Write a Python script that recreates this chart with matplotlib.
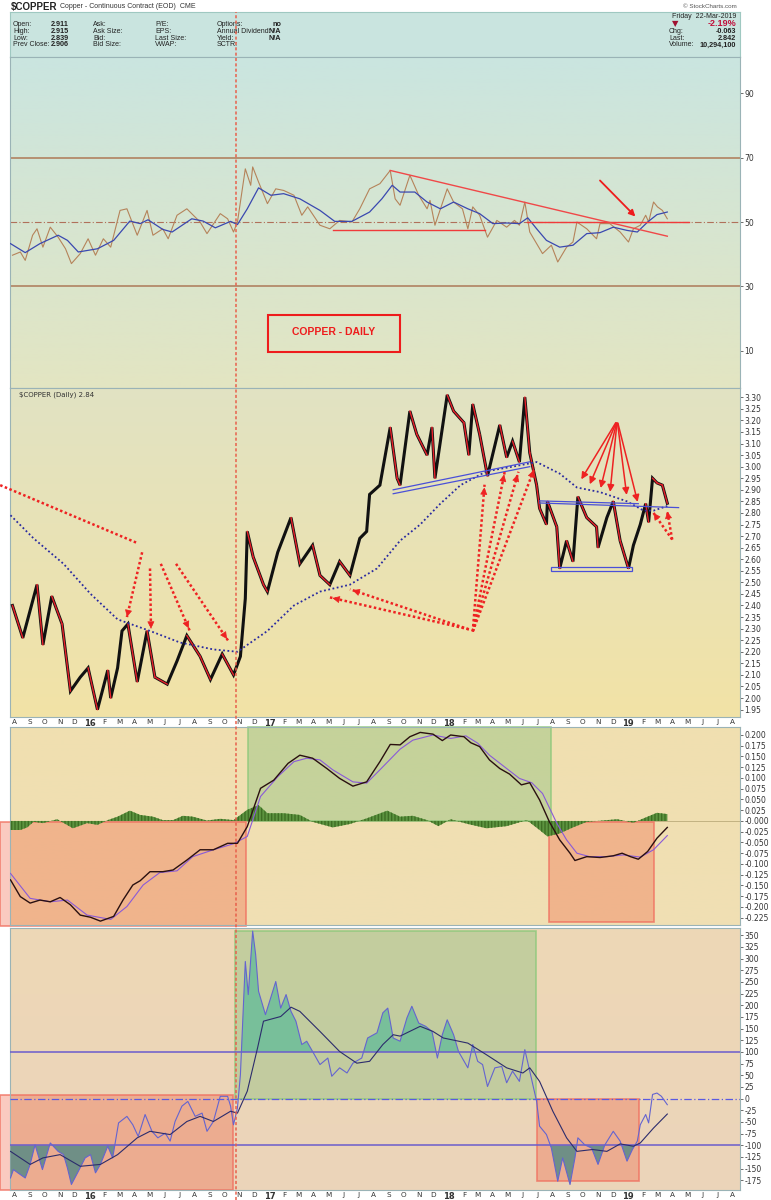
import matplotlib
matplotlib.use("Agg")
import matplotlib.pyplot as plt
import matplotlib.dates as mdates
import numpy as np
import pandas as pd
from matplotlib.patches import Rectangle
from matplotlib.lines import Line2D
from matplotlib.colors import LinearSegmentedColormap

# ---------------- data ----------------
price_dates = [
    "2015-07-28", "2015-08-18", "2015-09-16", "2015-09-28", "2015-10-16", "2015-11-06",
    "2015-11-23", "2015-12-13", "2015-12-29", "2016-01-17", "2016-02-07", "2016-02-13",
    "2016-02-27", "2016-03-07", "2016-03-19", "2016-04-07", "2016-04-27", "2016-05-13",
    "2016-06-07", "2016-06-27", "2016-07-17", "2016-08-13", "2016-09-03", "2016-09-27",
    "2016-10-20", "2016-11-03", "2016-11-13", "2016-11-17", "2016-11-29", "2016-12-20",
    "2016-12-28", "2017-01-18", "2017-02-14", "2017-03-04", "2017-03-30", "2017-04-14",
    "2017-05-04", "2017-05-24", "2017-06-14", "2017-07-04", "2017-07-18", "2017-07-24",
    "2017-08-14", "2017-09-04", "2017-09-18", "2017-09-24", "2017-10-14", "2017-10-28",
    "2017-11-18", "2017-11-28", "2017-12-04", "2017-12-29", "2018-01-11", "2018-02-01",
    "2018-02-11", "2018-02-19", "2018-03-05", "2018-03-21", "2018-04-15", "2018-04-29",
    "2018-05-11", "2018-05-25", "2018-06-05", "2018-06-15", "2018-06-29", "2018-07-05",
    "2018-07-19", "2018-07-21", "2018-08-09", "2018-08-15", "2018-08-29", "2018-09-11",
    "2018-09-21", "2018-10-09", "2018-10-29", "2018-11-01", "2018-11-19", "2018-12-02",
    "2018-12-16", "2019-01-02", "2019-01-12", "2019-01-26", "2019-02-06", "2019-02-12",
    "2019-02-20", "2019-03-01", "2019-03-12", "2019-03-22",
]
price_close = [
    2.40, 2.26, 2.49, 2.23, 2.44, 2.32, 2.03, 2.09, 2.13, 1.95, 2.12, 2.00,
    2.13, 2.29, 2.32, 2.07, 2.29, 2.09, 2.06, 2.16, 2.27, 2.18, 2.08, 2.19,
    2.10, 2.18, 2.43, 2.72, 2.61, 2.49, 2.46, 2.63, 2.78, 2.58, 2.66, 2.53,
    2.49, 2.59, 2.53, 2.69, 2.72, 2.88, 2.92, 3.17, 2.95, 2.92, 3.24, 3.14,
    3.05, 3.17, 2.95, 3.31, 3.24, 3.19, 3.05, 3.27, 3.14, 2.96, 3.18, 3.04,
    3.11, 3.02, 3.30, 3.06, 2.92, 2.82, 2.75, 2.85, 2.74, 2.56, 2.68, 2.59,
    2.87, 2.78, 2.74, 2.65, 2.78, 2.85, 2.68, 2.56, 2.66, 2.75, 2.84, 2.76,
    2.95, 2.93, 2.92, 2.842,
]

ma_dates = [
    "2015-07-24", "2015-09-09", "2015-11-09", "2016-01-03", "2016-02-27", "2016-05-03",
    "2016-07-03", "2016-09-09", "2016-10-28", "2016-12-28", "2017-02-20", "2017-04-14",
    "2017-06-14", "2017-08-08", "2017-09-24", "2017-11-04", "2017-12-15", "2018-01-25",
    "2018-03-19", "2018-05-11", "2018-06-29", "2018-08-15", "2018-09-19", "2018-11-05",
    "2018-12-30", "2019-02-02", "2019-02-22", "2019-03-22",
]
price_ma = [
    2.79, 2.69, 2.58, 2.45, 2.34, 2.29, 2.24, 2.21, 2.20, 2.29, 2.40, 2.46,
    2.49, 2.56, 2.68, 2.75, 2.84, 2.92, 2.98, 3.00, 3.02, 2.97, 2.91, 2.89,
    2.85, 2.81, 2.81, 2.83,
]

rsi_dates = [
    "2015-07-28", "2015-08-13", "2015-08-23", "2015-09-07", "2015-09-16", "2015-09-28",
    "2015-10-13", "2015-10-29", "2015-11-13", "2015-11-25", "2015-12-13", "2015-12-29",
    "2016-01-13", "2016-01-29", "2016-02-13", "2016-03-03", "2016-03-17", "2016-04-07",
    "2016-04-27", "2016-05-09", "2016-05-29", "2016-06-09", "2016-06-27", "2016-07-17",
    "2016-08-13", "2016-08-27", "2016-09-23", "2016-10-08", "2016-10-20", "2016-10-28",
    "2016-11-13", "2016-11-24", "2016-11-28", "2016-12-10", "2016-12-28", "2017-01-14",
    "2017-01-30", "2017-02-20", "2017-03-08", "2017-03-20", "2017-04-14", "2017-05-04",
    "2017-05-24", "2017-06-18", "2017-07-04", "2017-07-24", "2017-08-14", "2017-09-04",
    "2017-09-14", "2017-09-24", "2017-10-14", "2017-11-01", "2017-11-18", "2017-11-24",
    "2017-12-04", "2017-12-29", "2018-01-11", "2018-01-29", "2018-02-09", "2018-02-19",
    "2018-03-05", "2018-03-21", "2018-04-09", "2018-04-29", "2018-05-15", "2018-05-25",
    "2018-06-05", "2018-06-15", "2018-06-29", "2018-07-11", "2018-07-29", "2018-08-11",
    "2018-08-29", "2018-09-11", "2018-09-19", "2018-10-09", "2018-10-29", "2018-11-05",
    "2018-11-25", "2018-12-16", "2019-01-02", "2019-01-12", "2019-01-26", "2019-02-06",
    "2019-02-12", "2019-02-22", "2019-03-02", "2019-03-12", "2019-03-22",
]
rsi_values = [
    39.7, 40.7, 38.1, 45.9, 47.9, 42.2, 48.4, 45.3, 41.7, 37.1, 40.2, 44.8,
    39.7, 44.8, 42.2, 53.6, 54.1, 45.9, 53.6, 45.9, 47.9, 44.8, 52.1, 54.1,
    50.0, 46.4, 52.6, 51.0, 46.9, 50.0, 66.5, 61.4, 67.1, 62.4, 55.7, 60.3,
    59.8, 58.3, 52.1, 54.7, 49.0, 47.9, 50.5, 50.0, 54.1, 60.3, 61.9, 66.0,
    57.2, 55.2, 64.5, 58.3, 54.1, 56.7, 49.0, 60.3, 56.2, 54.1, 47.9, 54.7,
    52.1, 45.3, 50.5, 48.4, 50.5, 49.0, 56.2, 46.9, 43.3, 40.2, 42.8, 37.6,
    42.2, 43.8, 50.0, 47.9, 44.8, 49.5, 49.5, 46.9, 43.8, 47.9, 49.0, 52.1,
    50.0, 56.2, 54.7, 53.6, 51.0,
]

rsi_ma_dates = [
    "2015-07-24", "2015-08-23", "2015-09-22", "2015-10-29", "2015-11-17", "2015-12-09",
    "2016-01-17", "2016-02-19", "2016-03-23", "2016-04-13", "2016-04-29", "2016-05-29",
    "2016-06-17", "2016-07-27", "2016-08-19", "2016-09-13", "2016-10-14", "2016-10-28",
    "2016-11-17", "2016-12-10", "2017-01-04", "2017-01-30", "2017-03-04", "2017-04-14",
    "2017-05-14", "2017-06-18", "2017-07-24", "2017-08-18", "2017-09-08", "2017-09-24",
    "2017-10-24", "2017-11-18", "2017-12-15", "2018-01-11", "2018-02-09", "2018-03-05",
    "2018-04-01", "2018-04-29", "2018-05-25", "2018-06-11", "2018-06-29", "2018-07-19",
    "2018-08-15", "2018-09-11", "2018-10-09", "2018-11-05", "2018-12-02", "2018-12-30",
    "2019-01-20", "2019-02-10", "2019-03-01", "2019-03-22",
]
rsi_ma = [
    43.3, 40.5, 43.3, 45.9, 44.3, 40.7, 41.7, 44.3, 50.3, 49.5, 50.7, 47.7,
    46.9, 51.0, 50.3, 48.2, 50.2, 49.2, 54.1, 60.6, 58.3, 58.8, 57.2, 53.6,
    50.2, 50.2, 53.1, 57.2, 61.4, 59.3, 59.3, 56.2, 54.1, 56.2, 54.1, 52.6,
    49.5, 49.7, 49.5, 51.3, 47.9, 44.3, 42.2, 42.8, 46.4, 46.7, 48.4, 47.4,
    46.9, 50.0, 52.3, 53.1,
]

macd_dates = [
    "2015-07-24", "2015-08-13", "2015-09-02", "2015-09-22", "2015-10-13", "2015-11-02",
    "2015-11-23", "2015-12-13", "2016-01-03", "2016-01-23", "2016-02-19", "2016-03-09",
    "2016-03-29", "2016-04-13", "2016-05-03", "2016-05-29", "2016-06-19", "2016-07-17",
    "2016-08-13", "2016-09-09", "2016-10-08", "2016-10-28", "2016-11-17", "2016-12-14",
    "2017-01-10", "2017-02-08", "2017-03-04", "2017-03-30", "2017-04-28", "2017-05-24",
    "2017-06-20", "2017-07-18", "2017-08-14", "2017-09-04", "2017-09-24", "2017-10-14",
    "2017-11-04", "2017-11-30", "2017-12-19", "2018-01-05", "2018-02-01", "2018-02-15",
    "2018-03-05", "2018-03-25", "2018-04-15", "2018-05-05", "2018-05-29", "2018-06-15",
    "2018-07-05", "2018-07-25", "2018-08-15", "2018-09-05", "2018-09-15", "2018-10-09",
    "2018-11-05", "2018-12-02", "2018-12-20", "2019-01-06", "2019-01-22", "2019-02-10",
    "2019-03-01", "2019-03-22",
]
macd_line = [
    -0.137, -0.176, -0.191, -0.184, -0.188, -0.178, -0.195, -0.219, -0.224, -0.233,
    -0.222, -0.184, -0.149, -0.139, -0.118, -0.118, -0.114, -0.091, -0.067, -0.067,
    -0.052, -0.052, -0.013, 0.076, 0.095, 0.134, 0.153, 0.146, 0.122, 0.099,
    0.081, 0.091, 0.138, 0.178, 0.177, 0.196, 0.206, 0.202, 0.187, 0.200,
    0.196, 0.182, 0.173, 0.142, 0.122, 0.109, 0.084, 0.089, 0.049, -0.002,
    -0.044, -0.075, -0.092, -0.083, -0.085, -0.081, -0.075, -0.083, -0.089, -0.071,
    -0.040, -0.015,
]

signal_dates = [
    "2015-07-24", "2015-09-02", "2015-10-13", "2015-11-17", "2015-12-27", "2016-02-13",
    "2016-03-17", "2016-04-19", "2016-05-23", "2016-06-27", "2016-07-29", "2016-09-09",
    "2016-10-20", "2016-11-17", "2016-12-14", "2017-01-18", "2017-02-20", "2017-03-18",
    "2017-04-14", "2017-05-10", "2017-06-20", "2017-07-18", "2017-08-14", "2017-09-24",
    "2017-10-20", "2017-11-30", "2018-01-05", "2018-02-05", "2018-03-01", "2018-03-25",
    "2018-04-29", "2018-05-25", "2018-06-19", "2018-07-11", "2018-08-09", "2018-08-29",
    "2018-09-19", "2018-10-15", "2018-11-19", "2018-12-22", "2019-01-26", "2019-02-22",
    "2019-03-22",
]
signal_line = [
    -0.122, -0.180, -0.188, -0.184, -0.219, -0.229, -0.199, -0.149, -0.120, -0.116,
    -0.083, -0.067, -0.053, -0.036, 0.057, 0.103, 0.138, 0.146, 0.142, 0.119,
    0.091, 0.088, 0.119, 0.167, 0.188, 0.200, 0.192, 0.198, 0.181, 0.153,
    0.122, 0.099, 0.089, 0.064, -0.005, -0.044, -0.075, -0.083, -0.083, -0.079,
    -0.084, -0.067, -0.034,
]

hist_dates = [
    "2015-07-24", "2015-08-13", "2015-08-27", "2015-09-09", "2015-09-28", "2015-10-27",
    "2015-11-28", "2015-12-27", "2016-01-17", "2016-02-07", "2016-02-27", "2016-03-23",
    "2016-04-13", "2016-05-09", "2016-05-29", "2016-06-19", "2016-07-09", "2016-07-29",
    "2016-08-27", "2016-09-23", "2016-10-20", "2016-11-17", "2016-12-10", "2016-12-28",
    "2017-01-30", "2017-03-04", "2017-03-30", "2017-05-10", "2017-06-14", "2017-07-18",
    "2017-08-29", "2017-09-24", "2017-10-20", "2017-11-18", "2017-12-11", "2018-01-05",
    "2018-02-09", "2018-03-19", "2018-04-29", "2018-06-09", "2018-07-05", "2018-07-21",
    "2018-08-15", "2018-09-11", "2018-10-09", "2018-12-10", "2019-01-12", "2019-02-10",
    "2019-03-01", "2019-03-22",
]
hist_values = [
    -0.021, -0.021, -0.015, -0.002, -0.005, 0.004, -0.017, -0.005, -0.009, 0.002,
    0.010, 0.024, 0.014, 0.010, 0.002, 0.002, 0.012, 0.010, 0.001, 0.005,
    0.002, 0.026, 0.037, 0.018, 0.018, 0.014, -0.002, -0.015, -0.007, 0.006,
    0.024, 0.010, 0.012, 0.002, -0.012, 0.004, -0.007, -0.017, -0.012, 0.002,
    -0.021, -0.036, -0.029, -0.015, -0.002, 0.004, -0.004, 0.010, 0.019, 0.016,
]

cci_dates = [
    "2015-07-24", "2015-07-30", "2015-08-08", "2015-08-23", "2015-09-02", "2015-09-12",
    "2015-09-18", "2015-09-27", "2015-10-13", "2015-10-29", "2015-11-09", "2015-11-17",
    "2015-11-25", "2015-12-09", "2015-12-23", "2016-01-03", "2016-01-13", "2016-01-23",
    "2016-02-07", "2016-02-17", "2016-02-29", "2016-03-17", "2016-03-29", "2016-04-09",
    "2016-04-23", "2016-05-07", "2016-05-19", "2016-06-03", "2016-06-13", "2016-06-23",
    "2016-07-07", "2016-07-19", "2016-08-03", "2016-08-17", "2016-08-27", "2016-09-09",
    "2016-09-23", "2016-10-08", "2016-10-14", "2016-10-20", "2016-10-28", "2016-11-03",
    "2016-11-13", "2016-11-19", "2016-11-28", "2016-12-04", "2016-12-10", "2016-12-24",
    "2017-01-14", "2017-01-24", "2017-02-04", "2017-02-14", "2017-02-24", "2017-03-08",
    "2017-03-18", "2017-03-30", "2017-04-14", "2017-04-30", "2017-05-08", "2017-05-24",
    "2017-06-08", "2017-06-20", "2017-07-08", "2017-07-20", "2017-08-08", "2017-08-20",
    "2017-08-30", "2017-09-10", "2017-09-24", "2017-10-08", "2017-10-18", "2017-11-01",
    "2017-11-15", "2017-11-28", "2017-12-09", "2017-12-19", "2017-12-29", "2018-01-11",
    "2018-01-21", "2018-02-09", "2018-02-19", "2018-03-01", "2018-03-11", "2018-03-21",
    "2018-04-05", "2018-04-19", "2018-04-29", "2018-05-11", "2018-05-25", "2018-06-05",
    "2018-06-15", "2018-06-29", "2018-07-05", "2018-07-19", "2018-07-29", "2018-08-11",
    "2018-08-21", "2018-09-05", "2018-09-15", "2018-09-21", "2018-10-05", "2018-10-19",
    "2018-11-01", "2018-11-15", "2018-12-02", "2018-12-16", "2018-12-30", "2019-01-10",
    "2019-01-20", "2019-01-26", "2019-02-06", "2019-02-12", "2019-02-20", "2019-03-01",
    "2019-03-10", "2019-03-22",
]
cci_values = [
    -170, -152, -159, -170, -141, -99, -120, -152, -95, -113, -120, -149,
    -184, -156, -127, -120, -159, -141, -102, -127, -52, -38, -56, -81,
    -34, -70, -84, -74, -91, -49, -16, -6, -38, -31, -70, -49,
    5, 5, -16, -56, -20, 51, 294, 223, 359, 309, 230, 180,
    251, 194, 223, 187, 166, 116, 123, 101, 73, 87, 48, 66,
    55, 76, 87, 130, 141, 184, 194, 130, 123, 173, 198, 162,
    155, 144, 87, 137, 169, 137, 101, 66, 116, 80, 73, 26,
    66, 69, 34, 59, 37, 105, 59, -6, -59, -77, -106, -177,
    -127, -184, -127, -84, -99, -106, -141, -99, -70, -91, -134, -109,
    -91, -56, -34, -52, 9, 12, 5, -13,
]

cci_ma_dates = [
    "2015-07-24", "2015-09-02", "2015-09-28", "2015-11-02", "2015-12-13", "2016-01-23",
    "2016-02-27", "2016-04-07", "2016-05-03", "2016-06-13", "2016-07-17", "2016-08-13",
    "2016-09-09", "2016-10-14", "2016-10-28", "2016-11-17", "2016-12-08", "2016-12-20",
    "2017-01-24", "2017-02-14", "2017-03-04", "2017-04-14", "2017-05-24", "2017-06-28",
    "2017-07-24", "2017-08-20", "2017-09-10", "2017-09-24", "2017-11-04", "2017-11-30",
    "2017-12-21", "2018-02-09", "2018-03-19", "2018-04-29", "2018-06-01", "2018-06-15",
    "2018-07-05", "2018-08-01", "2018-08-29", "2018-09-19", "2018-10-21", "2018-11-19",
    "2018-12-16", "2019-01-12", "2019-01-26", "2019-02-22", "2019-03-22",
]
cci_ma = [
    -113, -141, -127, -120, -145, -141, -120, -84, -70, -77, -49, -38,
    -49, -27, -31, 16, 109, 166, 176, 196, 187, 144, 101, 76,
    80, 116, 137, 134, 155, 144, 130, 119, 94, 66, 55, 66,
    37, -27, -84, -113, -109, -113, -97, -102, -95, -63, -33,
]

rsi_ticks = [10, 30, 50, 70, 90]
price_ticks = np.round(np.arange(1.95, 3.3001, 0.05), 2)
macd_ticks = np.round(np.arange(-0.225, 0.2001, 0.025), 3)
cci_ticks = np.arange(-175, 351, 25)
month_ticks = pd.date_range("2015-08-01", "2019-08-01", freq="MS")
month_labels = [str(t.year)[2:] if t.month == 1 else t.strftime("%b")[0] for t in month_ticks]


def dn(values):
    return mdates.date2num(pd.to_datetime(values))


W, H = 771, 1200
plt.rcParams["font.family"] = ["DejaVu Sans"]
fig = plt.figure(figsize=(W / 100, H / 100), dpi=100)
HDR = "Liberation Sans"


def box(top, bottom, left=10, right=740):
    return [left / W, 1 - bottom / H, (right - left) / W, (bottom - top) / H]


def fx(x):
    return x / W


def fy(y):
    return 1 - y / H


ax_hdr = fig.add_axes(box(12, 57))
ax_rsi = fig.add_axes(box(57, 388))
ax_px = fig.add_axes(box(388, 717))
ax_macd = fig.add_axes(box(727, 925))
ax_cci = fig.add_axes(box(928, 1190))

xlim = dn(["2015-07-23", "2019-08-17"])
spine_col = "#9ab3b6"


def gradient(ax, top, bottom):
    cmap = LinearSegmentedColormap.from_list("bg", [bottom, top])
    ax.imshow(np.linspace(0, 1, 256).reshape(-1, 1), cmap=cmap, origin="lower",
              extent=[0, 1, 0, 1], transform=ax.transAxes, aspect="auto", zorder=0)


def style(ax, ticks, fmt, ylim):
    ax.set_xlim(*xlim)
    ax.set_ylim(*ylim)
    ax.yaxis.tick_right()
    ax.set_yticks(ticks)
    ax.set_yticklabels([fmt.format(t) for t in ticks])
    ax.tick_params(axis="y", labelsize=5.5, length=2, width=0.5, pad=1,
                   colors="#333333", direction="out")
    ax.set_xticks(dn(month_ticks))
    ax.tick_params(axis="x", length=0)
    ax.set_xticklabels([])
    for s in ax.spines.values():
        s.set_color(spine_col)
        s.set_linewidth(0.8)


def month_axis(ax):
    ax.set_xticklabels(month_labels)
    ax.tick_params(axis="x", labelsize=5.2, pad=1.5, colors="#333333")
    for lab in ax.get_xticklabels():
        if lab.get_text().isdigit():
            lab.set_fontweight("bold")
            lab.set_fontsize(6)


# ---------------- header ----------------
ax_hdr.set_facecolor("#c9e4df")
ax_hdr.set_xticks([])
ax_hdr.set_yticks([])
for s in ax_hdr.spines.values():
    s.set_color("#9fc8c1")
fig.text(fx(11), fy(7), "$COPPER", fontsize=7, fontweight="bold", va="center",
         color="#222", family=HDR)
fig.text(fx(60), fy(7), "Copper - Continuous Contract (EOD)  CME", fontsize=5, va="center",
         color="#333", family=HDR)
fig.text(fx(737), fy(6), "\u00a9 StockCharts.com", fontsize=4.5, va="center", ha="right",
         color="#555", family=HDR)

rows = [25, 31.7, 38.3, 45]
col1 = ["Open:", "High:", "Low:", "Prev Close:"]
val1 = ["2.911", "2.915", "2.839", "2.906"]
col2 = ["Ask:", "Ask Size:", "Bid:", "Bid Size:"]
col3 = ["P/E:", "EPS:", "Last Size:", "VWAP:"]
col4 = ["Options:", "Annual Dividend:", "Yield:", "SCTR:"]
val4 = ["no", "N/A", "N/A", ""]
for i, y in enumerate(rows):
    fig.text(fx(13), fy(y), col1[i], fontsize=5, va="center", color="#222", family=HDR)
    fig.text(fx(51), fy(y), val1[i], fontsize=5.2, va="center", fontweight="bold", color="#222", family=HDR)
    fig.text(fx(93), fy(y), col2[i], fontsize=5, va="center", color="#222", family=HDR)
    fig.text(fx(155), fy(y), col3[i], fontsize=5, va="center", color="#222", family=HDR)
    fig.text(fx(217), fy(y), col4[i], fontsize=5, va="center", color="#222", family=HDR)
    fig.text(fx(281), fy(y), val4[i], fontsize=5.2, va="center", ha="right", fontweight="bold",
             color="#222", family=HDR)

fig.text(fx(736), fy(17), "Friday  22-Mar-2019", fontsize=5, ha="right", va="center",
         color="#222", family=HDR)
fig.text(fx(675), fy(24), "\u25bc", fontsize=6, ha="center", va="center", color="#a01030")
fig.text(fx(736), fy(24), "-2.19%", fontsize=6.5, ha="right", va="center", fontweight="bold",
         color="#c0103c", family=HDR)
right_lab = ["Chg:", "Last:", "Volume:"]
right_val = ["-0.063", "2.842", "10,294,100"]
for lab, val, y in zip(right_lab, right_val, rows[1:]):
    fig.text(fx(669), fy(y), lab, fontsize=5, va="center", color="#222", family=HDR)
    fig.text(fx(736), fy(y), val, fontsize=5.2, ha="right", va="center", fontweight="bold",
             color="#222", family=HDR)

# ---------------- RSI panel ----------------
gradient(ax_rsi, "#cae5e0", "#e3e5c2")
for lvl in (70, 30):
    ax_rsi.axhline(lvl, color="#b48a6a", lw=1.3, zorder=2)
ax_rsi.axhline(50, color="#b0705a", lw=0.8, ls=(0, (6, 2, 1, 2)), zorder=2)
ax_rsi.plot(dn(rsi_dates), rsi_values, color="#b5835a", lw=0.8, zorder=3)
ax_rsi.plot(dn(rsi_ma_dates), rsi_ma, color="#3a48b0", lw=0.9, zorder=4)
ax_rsi.plot(dn(["2017-05-10", "2018-03-15"]), [47.6, 47.6], color="#f03a3a", lw=1, zorder=5)
ax_rsi.plot(dn(["2018-06-09", "2019-05-06"]), [50, 50], color="#f03a3a", lw=1, zorder=5)
ax_rsi.plot(dn(["2017-09-04", "2019-03-22"]), [66, 45.6], color="#f04848", lw=1, zorder=5)
ax_rsi.annotate("", xy=(dn(["2019-01-20"])[0], 51.1), xytext=(dn(["2018-11-01"])[0], 63.5),
                arrowprops=dict(arrowstyle="-|>", color="#ee1c1c", lw=1.3, mutation_scale=9), zorder=6)
style(ax_rsi, rsi_ticks, "{:d}", (-1.5, 101.2))
fig.patches.append(Rectangle((fx(268), fy(352)), fx(132), 37 / H, transform=fig.transFigure,
                             fill=False, edgecolor="#ee1c1c", lw=1.5, zorder=5))
fig.text(fx(334), fy(332), "COPPER - DAILY", fontsize=7.5, fontweight="bold", color="#ee1c1c",
         ha="center", va="center", family=HDR)

# ---------------- price panel ----------------
gradient(ax_px, "#e1e3c3", "#f2e2a6")
px_x = dn(price_dates)
ax_px.plot(px_x, price_close, color="#111111", lw=2.2, zorder=3, solid_joinstyle="miter")
for i in range(1, len(px_x)):
    if price_close[i] < price_close[i - 1]:
        ax_px.plot(px_x[i - 1:i + 1], price_close[i - 1:i + 1], color="#e8202a", lw=1.0, zorder=4)
ax_px.plot(dn(ma_dates), price_ma, color="#2a2aa0", lw=1.3, ls=(0, (1, 1.4)), zorder=4)

red = "#ee2222"


def dotted_arrow(ax, start, tip, head=True):
    x0, y0 = dn([start[0]])[0], start[1]
    x1, y1 = dn([tip[0]])[0], tip[1]
    ax.plot([x0, x1], [y0, y1], color=red, lw=1.8, ls=(0, (1, 1)), zorder=6, clip_on=False)
    if head:
        ax.annotate("", xy=(x1, y1), xytext=(x1 - (x1 - x0) * 0.08, y1 - (y1 - y0) * 0.08),
                    arrowprops=dict(arrowstyle="-|>", color=red, lw=0.5, mutation_scale=11),
                    zorder=7, annotation_clip=False)


dotted_arrow(ax_px, ("2015-07-03", 2.92), ("2016-04-07", 2.67), head=False)
dotted_arrow(ax_px, ("2016-04-17", 2.63), ("2016-03-17", 2.35))
dotted_arrow(ax_px, ("2016-05-03", 2.56), ("2016-05-05", 2.30))
dotted_arrow(ax_px, ("2016-05-25", 2.58), ("2016-07-23", 2.29))
dotted_arrow(ax_px, ("2016-06-25", 2.58), ("2016-10-10", 2.245))
dotted_arrow(ax_px, ("2018-02-11", 2.297), ("2017-05-04", 2.435))
dotted_arrow(ax_px, ("2018-02-11", 2.297), ("2017-06-14", 2.47))
for tip in [("2018-03-15", 2.922), ("2018-04-25", 2.978), ("2018-05-23", 2.978), ("2018-06-25", 2.996)]:
    dotted_arrow(ax_px, ("2018-02-19", 2.288), tip)
dotted_arrow(ax_px, ("2019-04-01", 2.685), ("2019-02-22", 2.80))
dotted_arrow(ax_px, ("2019-04-01", 2.685), ("2019-03-22", 2.806))

apex = (dn(["2018-12-10"])[0], 3.20)
for d, p in [("2018-09-25", 2.935), ("2018-10-13", 2.913), ("2018-11-05", 2.896),
             ("2018-11-25", 2.879), ("2018-12-30", 2.866), ("2019-01-22", 2.836)]:
    ax_px.annotate("", xy=(dn([d])[0], p), xytext=apex,
                   arrowprops=dict(arrowstyle="-|>", color=red, lw=1.1, mutation_scale=10), zorder=7)

blue = "#4a50d8"
ax_px.plot(dn(["2017-09-10", "2018-06-15"]), [2.90, 3.021], color=blue, lw=0.9, zorder=5)
ax_px.plot(dn(["2017-09-10", "2018-06-15"]), [2.883, 3.0], color=blue, lw=0.9, zorder=5)
ax_px.plot(dn(["2018-07-05", "2019-01-22"]), [2.852, 2.840], color=blue, lw=0.9, zorder=5)
ax_px.plot(dn(["2018-07-05", "2019-04-14"]), [2.843, 2.823], color=blue, lw=0.9, zorder=5)
r0, r1 = dn(["2018-07-29", "2019-01-10"])
ax_px.add_patch(Rectangle((r0, 2.548), r1 - r0, 0.017, fill=False, edgecolor=blue, lw=0.9, zorder=5))
ax_px.text(0.012, 0.99, "$COPPER (Daily) 2.84", transform=ax_px.transAxes, fontsize=5,
           va="top", ha="left", color="#333")
style(ax_px, price_ticks, "{:.2f}", (1.918, 3.34))
month_axis(ax_px)

# ---------------- MACD panel ----------------
gradient(ax_macd, "#f0e0b0", "#f0dfb4")
ax_macd.axhline(0, color="#b0a070", lw=0.5, zorder=1)
hx = dn(hist_dates)
ax_macd.fill_between(hx, hist_values, 0, facecolor="#5c9440", edgecolor="#3e6e24",
                     hatch="|||||", lw=0, zorder=3)
ax_macd.plot(dn(signal_dates), signal_line, color="#8a5ad8", lw=0.8, zorder=4)
ax_macd.plot(dn(macd_dates), macd_line, color="#2a1010", lw=1.0, zorder=5)


def shade(ax, d0, d1, y0, y1, face, edge):
    a, b = dn([d0, d1])
    ax.add_patch(Rectangle((a, y0), b - a, y1 - y0, facecolor=face, alpha=0.32, zorder=2,
                           clip_on=False, lw=0))
    ax.add_patch(Rectangle((a, y0), b - a, y1 - y0, fill=False, edgecolor=edge, alpha=0.8,
                           lw=1.2, zorder=2, clip_on=False))


pink_face, pink_edge = "#f05a3c", "#f07060"
green_face, green_edge = "#6bb86d", "#8cc87a"
shade(ax_macd, "2015-07-03", "2016-11-15", -0.244, -0.003, pink_face, pink_edge)
shade(ax_macd, "2016-11-19", "2018-07-29", 0.0, 0.2186, green_face, green_edge)
shade(ax_macd, "2018-07-25", "2019-02-22", -0.235, -0.003, pink_face, pink_edge)
style(ax_macd, macd_ticks, "{:.3f}", (-0.242, 0.2186))

# ---------------- CCI panel ----------------
gradient(ax_cci, "#eed8b6", "#ebd4ba")
cx = dn(cci_dates)
cv = np.array(cci_values, dtype=float)
ax_cci.fill_between(cx, cv, 100, where=cv >= 100, interpolate=True, color="#78bf9a", lw=0, zorder=3)
ax_cci.fill_between(cx, cv, -100, where=cv <= -100, interpolate=True, color="#6f8f86", lw=0, zorder=3)
for lvl in (100, -100):
    ax_cci.axhline(lvl, color="#6a5ccc", lw=1.1, zorder=4)
ax_cci.axhline(0, color="#5a5ae0", lw=0.9, ls=(0, (6, 2, 1, 2)), zorder=4)
ax_cci.plot(cx, cv, color="#6464d0", lw=0.8, zorder=5)
ax_cci.plot(dn(cci_ma_dates), cci_ma, color="#2c2c6c", lw=0.8, zorder=6)
shade(ax_cci, "2015-07-03", "2016-10-18", -195.8, 8, pink_face, pink_edge)
shade(ax_cci, "2016-10-24", "2018-06-27", 0, 360, green_face, green_edge)
shade(ax_cci, "2018-06-29", "2019-01-24", -177, -1, pink_face, pink_edge)
style(ax_cci, cci_ticks, "{:d}", (-195.8, 365.7))
month_axis(ax_cci)

# vertical marker line through all panels
vx = dn(["2016-10-26"])[0]
fig_x = fig.transFigure.inverted().transform(ax_px.transData.transform((vx, 2.5)))[0]
fig.add_artist(Line2D([fig_x, fig_x], [0, fy(12)], transform=fig.transFigure,
                      color="#e8604c", lw=1.1, ls=(0, (2, 1.5)), zorder=10))

fig.savefig("out.png", dpi=100, facecolor="white")
